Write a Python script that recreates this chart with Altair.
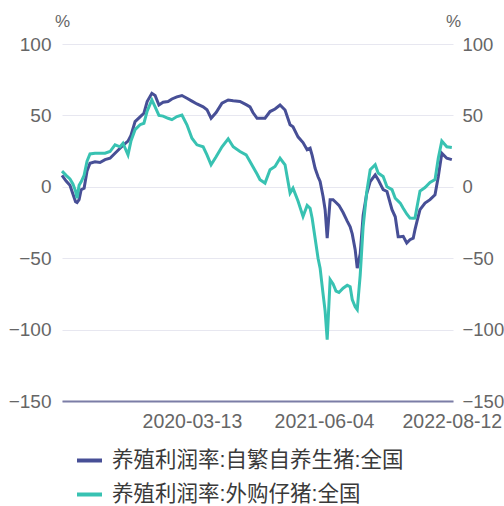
import altair as alt
import pandas as pd

dates = [
    "2018-12-28", "2019-01-11", "2019-01-24", "2019-02-03", "2019-02-12", "2019-02-17",
    "2019-02-24", "2019-03-03", "2019-03-13", "2019-03-23", "2019-04-02", "2019-04-19",
    "2019-05-06", "2019-05-23", "2019-06-09", "2019-06-26", "2019-07-13", "2019-07-23",
    "2019-08-09", "2019-08-19", "2019-09-02", "2019-09-19", "2019-10-02", "2019-10-13",
    "2019-10-29", "2019-11-09", "2019-11-22", "2019-12-06", "2019-12-23", "2020-01-05",
    "2020-01-22", "2020-02-08", "2020-02-25", "2020-03-13", "2020-03-30", "2020-04-20",
    "2020-05-03", "2020-05-17", "2020-06-03", "2020-06-23", "2020-07-14", "2020-07-31",
    "2020-08-23", "2020-09-13", "2020-09-26", "2020-10-06", "2020-10-20", "2020-10-30",
    "2020-11-16", "2020-12-03", "2020-12-20", "2021-01-06", "2021-01-23", "2021-02-09",
    "2021-02-19", "2021-03-08", "2021-03-25", "2021-04-08", "2021-04-18", "2021-04-25",
    "2021-05-05", "2021-05-15", "2021-05-22", "2021-06-01", "2021-06-08", "2021-06-15",
    "2021-06-25", "2021-07-05", "2021-07-15", "2021-07-25", "2021-08-08", "2021-08-22",
    "2021-09-01", "2021-09-08", "2021-09-18", "2021-09-25", "2021-10-05", "2021-10-15",
    "2021-10-27", "2021-11-08", "2021-11-25", "2021-12-05", "2021-12-22", "2022-01-04",
    "2022-01-21", "2022-02-01", "2022-02-11", "2022-02-18", "2022-02-28", "2022-03-12",
    "2022-03-23", "2022-04-03", "2022-04-09", "2022-04-16", "2022-04-26", "2022-05-13",
    "2022-05-30", "2022-06-16", "2022-06-27", "2022-07-09", "2022-07-26", "2022-08-12",
]

self_bred = [
    8, 4, 1, -5, -10.5, -11,
    -9, -2, -1, 11, 16.5, 17.5,
    17, 19, 20, 23.5, 27, 29,
    32, 36, 45.7, 49, 51.5, 59.7,
    65.5, 64, 57.3, 59.2, 59.7, 61.5,
    63, 63.9, 62, 60, 58, 56,
    54, 48, 52, 58.5, 60.8, 60.3,
    59.8, 57.5, 56, 52, 48, 48,
    48, 52.7, 54.5, 57.3, 53.8, 43.4,
    42, 35, 31, 26, 27, 22,
    13, 7, 3.7, -6.8, -16, -36,
    -9, -9, -11, -13, -18, -24,
    -28, -33, -44, -57, -47, -20,
    -5, 3.7, 8.4, 5, -2, -3.3,
    -16, -21, -35, -35, -34.7, -39.4,
    -37, -36, -30, -24, -16, -11.4,
    -9, -5.6, 7, 23.5, 20, 19,
]

purchased = [
    11, 8, 5.5, 2, -3, -8,
    1, 3.5, 8, 18, 23, 23.5,
    23.5, 23.5, 24.7, 29.4, 28, 30.5,
    22.4, 32, 40, 43.5, 44.5, 53,
    60.8, 56, 50, 49.5, 48, 47,
    49.2, 50.3, 43.4, 34, 29.4, 28,
    22.4, 15.4, 21, 28, 33.6, 28,
    24.7, 22.4, 17.7, 14, 9, 5,
    2.6, 11.9, 14.2, 20, 15.4, -4.4,
    -1, -10, -20.8, -13, -15, -22,
    -36, -50, -57, -75, -87, -107,
    -65, -68, -73, -74, -71, -69,
    -70, -79, -84, -86, -62, -28,
    -4, 11.9, 15.4, 9.6, 7.2, 0,
    -2, -8, -10, -11.4, -15, -19,
    -21.9, -22, -21.9, -14, -3, -0.5,
    3, 5, 20, 32, 28, 27.5,
]

name_a = "养殖利润率:自繁自养生猪:全国"
name_b = "养殖利润率:外购仔猪:全国"
color_a = "#474f96"
color_b = "#38c2b2"
y_ticks = [-150, -100, -50, 0, 50, 100]

df = pd.DataFrame({"date": dates, "a": self_bred, "b": purchased})

FONT = "Liberation Sans, Noto Sans CJK SC, sans-serif"
LABEL_COLOR = "#666666"


def dt(y, m, d):
    return alt.DateTime(year=y, month=m, date=d, utc=True)


x_enc = alt.X(
    "date:T",
    scale=alt.Scale(type="utc", domain=[dt(2018, 12, 28), dt(2022, 8, 16)]),
    axis=alt.Axis(
        values=[dt(2020, 3, 13), dt(2021, 6, 4), dt(2022, 8, 12)],
        labelExpr="utcFormat(datum.value, '%Y-%m-%d')",
        title=None,
        grid=False,
        ticks=False,
        domainColor="#7b7da6",
        domainWidth=2,
        labelFontSize=19.5,
        labelColor=LABEL_COLOR,
        labelPadding=11,
        labelFlush=False,
        labelOverlap=False,
    ),
)

color_scale = alt.Scale(domain=[name_a, name_b], range=[color_a, color_b])
legend = alt.Legend(
    title=None,
    orient="none",
    legendX=13,
    legendY=402,
    direction="vertical",
    symbolType="stroke",
    symbolStrokeWidth=4,
    symbolSize=625,
    labelFontSize=21.5,
    labelColor="#3a3a3a",
    labelFont=FONT,
    labelOffset=8,
    labelLimit=0,
    rowPadding=9,
)


def y_axis(orient, grid, size, pad):
    return alt.Axis(
        orient=orient,
        values=y_ticks,
        title="%",
        titleAngle=0,
        titleX=0,
        titleY=-23,
        titleAlign="center",
        titleBaseline="middle",
        titleFontSize=17,
        titleFontWeight="normal",
        titleColor=LABEL_COLOR,
        grid=grid,
        gridColor="#e7e7f0",
        gridWidth=1,
        ticks=False,
        domain=False,
        labelFontSize=size,
        labelColor=LABEL_COLOR,
        labelPadding=pad,
    )


y_scale = alt.Scale(domain=[-150, 100], nice=False, zero=False)

line_a = (
    alt.Chart(df)
    .transform_calculate(series="'" + name_a + "'")
    .mark_line(strokeWidth=3)
    .encode(
        x=x_enc,
        y=alt.Y("a:Q", scale=y_scale, axis=y_axis("left", True, 19, 11)),
        color=alt.Color("series:N", scale=color_scale, legend=legend),
    )
)

line_b = (
    alt.Chart(df)
    .transform_calculate(series="'" + name_b + "'")
    .mark_line(strokeWidth=3)
    .encode(
        x=x_enc,
        y=alt.Y("b:Q", scale=y_scale, axis=y_axis("right", False, 18.5, 9)),
        color=alt.Color("series:N", scale=color_scale, legend=legend),
    )
)

chart = (
    alt.layer(line_a, line_b)
    .resolve_scale(y="independent")
    .properties(
        width=391,
        height=357,
        autosize=alt.AutoSizeParams(type="none"),
        padding={"left": 62, "top": 44, "right": 51, "bottom": 105},
        background="white",
    )
    .configure(font=FONT)
    .configure_view(stroke="transparent", strokeWidth=0)
)

chart.save("out.html", embed_options={"renderer": "svg", "actions": False})
